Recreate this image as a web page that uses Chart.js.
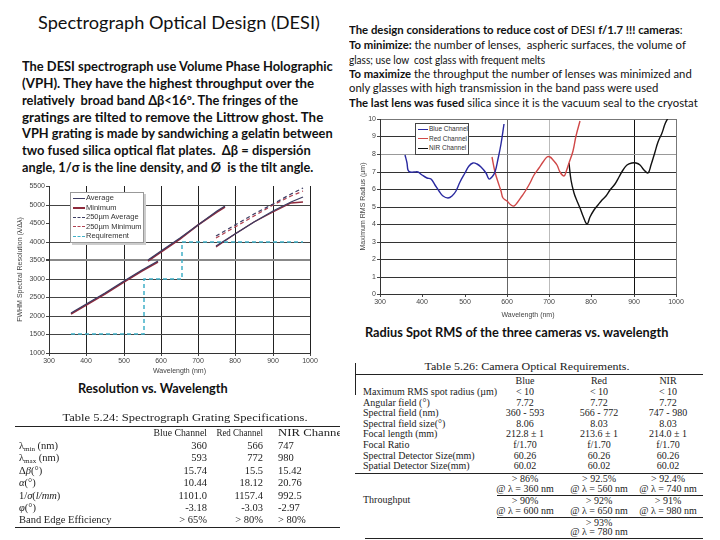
<!DOCTYPE html>
<html>
<head>
<meta charset="utf-8">
<title>Spectrograph Optical Design (DESI)</title>
<script src="https://cdn.jsdelivr.net/npm/chart.js@4.4.1/dist/chart.umd.min.js"></script>
<style>
  html, body { margin: 0; padding: 0; background: #fff; }
  #slide { position: relative; width: 720px; height: 540px; overflow: hidden; font-family: Lato, 'Liberation Sans', sans-serif; color: #111; }
  .abs { position: absolute; white-space: nowrap; }
  .line { position: absolute; white-space: nowrap; transform-origin: left center; }
  .par-l { font-size: 12.5px; font-weight: 700; }
  .par-r { font-size: 10.5px; }
  .cap { font-size: 12.5px; font-weight: 700; }
  .tab { font-family: 'Liberation Serif', serif; font-size: 10px; color: #222; line-height: 12px; }
  .tab-l { font-size: 10.5px; }
  .tab sub { font-size: 7px; vertical-align: -2px; line-height: 0; }
  .rule { position: absolute; height: 0; border-top: 1px solid #222; }
  .box { position: absolute; background: #fff; font-family: 'Liberation Sans', sans-serif; font-size: 7px; color: #333; overflow: hidden; z-index: 5; }
  .box div { height: 9.6px; line-height: 9.6px; white-space: nowrap; }
  .box span { display: inline-block; width: 12px; vertical-align: middle; margin: 0 1px 0 2px; }
  .chart { position: absolute; }
</style>
</head>
<body>
<div id="slide">

  <div class="line" data-w="282" style="left:38px; top:12px; font-size:17px;">Spectrograph Optical Design (DESI)</div>

  <div class="line par-l" data-w="311" style="left:22px; top:59px;">The DESI spectrograph use Volume Phase Holographic</div>
  <div class="line par-l" data-w="292" style="left:22px; top:76px;">(VPH). They have the highest throughput over the</div>
  <div class="line par-l" data-w="276" style="left:22px; top:93px;">relatively&nbsp; broad band Δβ&lt;16º. The fringes of the</div>
  <div class="line par-l" data-w="301" style="left:22px; top:110px;">gratings are tilted to remove the Littrow ghost. The</div>
  <div class="line par-l" data-w="311" style="left:22px; top:126px;">VPH grating is made by sandwiching a gelatin between</div>
  <div class="line par-l" data-w="289" style="left:22px; top:143px;">two fused silica optical flat plates.&nbsp; Δβ = dispersión</div>
  <div class="line par-l" data-w="291" style="left:22px; top:160px;">angle, 1/σ is the line density, and Ø&nbsp; is the tilt angle.</div>

  <div class="line par-r" data-w="334" style="left:349px; top:24px;"><b>The design considerations to reduce cost of</b> DESI <b>f/1.7 !!! cameras</b>:</div>
  <div class="line par-r" data-w="337" style="left:349px; top:39px;"><b>To minimize:</b> the number of lenses,&nbsp; aspheric surfaces, the volume of</div>
  <div class="line par-r" data-w="196" style="left:349px; top:54px;">glass; use low&nbsp; cost glass with frequent melts</div>
  <div class="line par-r" data-w="343" style="left:349px; top:68px;"><b>To maximize</b> the throughput the number of lenses was minimized and</div>
  <div class="line par-r" data-w="309" style="left:349px; top:82px;">only glasses with high transmission in the band pass were used</div>
  <div class="line par-r" data-w="349" style="left:349px; top:97px;"><b>The last lens was fused</b> silica since it is the vacuum seal to the cryostat</div>

  <div class="chart" style="left:0; top:180px; width:320px; height:196px;"><canvas id="chart-res"></canvas></div>
  <div class="chart" style="left:355px; top:110px; width:335px; height:210px;"><canvas id="chart-rms"></canvas></div>

  <div class="box" style="left:70px; top:192px; width:72px; height:49px; border:1px solid #999; box-shadow:2px 2px 0 #ccc; font-size:7.5px;">
    <div><span style="border-top:1.5px solid #3d3d63"></span>Average</div>
    <div><span style="border-top:2px solid #8e2a3c"></span>Minimum</div>
    <div><span style="border-top:1.5px dashed #3d3d63"></span>250µm Average</div>
    <div><span style="border-top:1.5px dashed #b04050"></span>250µm Minimum</div>
    <div><span style="border-top:1.5px dashed #40b0c8"></span>Requirement</div>
  </div>

  <div class="box" style="left:415px; top:123px; width:52px; height:30px; border:1px solid #444; font-size:6.5px;">
    <div><span style="border-top:1.5px solid #2a2aa0; width:10px"></span>Blue Channel</div>
    <div><span style="border-top:1.5px solid #d04848; width:10px"></span>Red Channel</div>
    <div><span style="border-top:1.5px solid #111; width:10px"></span>NIR Channel</div>
  </div>

  <div class="line cap" data-w="150" style="left:78px; top:381px;">Resolution vs. Wavelength</div>
  <div class="line cap" data-w="303" style="left:365px; top:325px;">Radius Spot RMS of the three cameras vs. wavelength</div>

  <div id="tablas"></div>
</div>

<script>
// ── RESOLUTION vs WAVELENGTH (left chart) ──────
// wavelengths (nm) of the points
const RES_WL_BLUE = [360, 450, 500, 550, 593];
const RES_WL_RED  = [566, 600, 650, 700, 750, 772];
const RES_WL_NIR  = [748, 800, 850, 900, 950, 980];

const RES_AVG_BLUE = [2070, 2620, 2930, 3230, 3480];
const RES_MIN_BLUE = [2050, 2600, 2905, 3205, 3455];
const RES_AVG_RED  = [3510, 3750, 4105, 4460, 4815, 4970];
const RES_MIN_RED  = [3490, 3730, 4085, 4440, 4790, 4945];
const RES_AVG_NIR  = [3870, 4220, 4540, 4820, 5080, 5210];
const RES_MIN_NIR  = [3850, 4200, 4520, 4800, 5030, 5080];
const RES_AVG250_NIR = [4140, 4440, 4750, 5020, 5280, 5440];
const RES_MIN250_NIR = [4100, 4400, 4700, 4980, 5220, 5370];

const REQ_WL  = [360, 556, 556, 656, 656, 980];
const REQ_VAL = [1500, 1500, 3000, 3000, 4000, 4000];

// ── RMS SPOT RADIUS (right chart) ──────────────
const RMS_WL_BLUE = [360, 363, 367, 372, 380, 390, 400, 410, 420, 430, 440, 450, 460, 470, 480, 490, 500, 510, 520, 530, 540, 550, 558, 565, 572, 580, 587, 593];
const RMS_BLUE    = [7.96, 7.5, 7.1, 6.97, 6.95, 6.98, 6.8, 6.65, 6.55, 6.25, 5.9, 5.6, 5.5, 5.6, 5.9, 6.4, 6.9, 7.3, 7.48, 7.45, 7.25, 6.9, 6.6, 6.7, 7.0, 7.7, 8.6, 9.7];

const RMS_WL_RED = [566, 572, 578, 585, 592, 600, 610, 618, 625, 635, 645, 655, 665, 675, 685, 695, 702, 710, 718, 726, 734, 740, 748, 756, 764, 772];
const RMS_RED    = [7.85, 7.0, 6.4, 5.9, 5.5, 5.3, 5.1, 5.02, 5.2, 5.6, 5.95, 6.35, 6.8, 7.2, 7.55, 7.8, 7.82, 7.65, 7.35, 7.0, 6.75, 7.0, 7.5, 8.2, 9.0, 9.9];

const RMS_WL_NIR = [746, 752, 758, 765, 772, 780, 789, 797, 805, 815, 825, 835, 845, 855, 865, 875, 885, 895, 905, 915, 925, 934, 942, 950, 958, 966, 974, 980];
const RMS_NIR    = [7.5, 6.5, 5.75, 5.3, 4.9, 4.45, 4.0, 4.4, 4.8, 5.1, 5.35, 5.6, 5.95, 6.3, 6.7, 7.1, 7.35, 7.5, 7.48, 7.35, 7.1, 6.92, 7.4, 8.1, 8.7, 9.2, 9.7, 10.05];

// axis ranges
const WL_MIN = 300, WL_MAX = 1000, WL_STEP = 100;
const RES_MIN = 1000, RES_MAX = 5500, RES_STEP = 500;
const RMS_MIN = 0, RMS_MAX = 10, RMS_STEP = 1;

// ── TABLES ─────────────────────────────────────
const GRATING_HEAD = ['Blue Channel', 'Red Channel', 'NIR Channel'];
const GRATING_ROWS = [
  ['λ<sub>min</sub> (nm)', '360', '566', '747'],
  ['λ<sub>max</sub> (nm)', '593', '772', '980'],
  ['Δ<i>β</i>(°)', '15.74', '15.5', '15.42'],
  ['<i>α</i>(°)', '10.44', '18.12', '20.76'],
  ['1/<i>σ</i>(<i>l/mm</i>)', '1101.0', '1157.4', '992.5'],
  ['<i>φ</i>(°)', '-3.18', '-3.03', '-2.97'],
  ['Band Edge Efficiency', '&gt; 65%', '&gt; 80%', '&gt; 80%']
];

const CAMERA_HEAD = ['Blue', 'Red', 'NIR'];
const CAMERA_ROWS = [
  ['Maximum RMS spot radius (µm)', '&lt; 10', '&lt; 10', '&lt; 10'],
  ['Angular field (°)', '7.72', '7.72', '7.72'],
  ['Spectral field (nm)', '360 - 593', '566 - 772', '747 - 980'],
  ['Spectral field size(°)', '8.06', '8.03', '8.03'],
  ['Focal length (mm)', '212.8 ± 1', '213.6 ± 1', '214.0 ± 1'],
  ['Focal Ratio', 'f/1.70', 'f/1.70', 'f/1.70'],
  ['Spectral Detector Size(mm)', '60.26', '60.26', '60.26'],
  ['Spatial Detector Size(mm)', '60.02', '60.02', '60.02']
];
const THROUGHPUT = [
  ['&gt; 86%', '&gt; 92.5%', '&gt; 92.4%'],
  ['@ λ = 360 nm', '@ λ = 560 nm', '@ λ = 740 nm'],
  ['&gt; 90%', '&gt; 92%', '&gt; 91%'],
  ['@ λ = 600 nm', '@ λ = 650 nm', '@ λ = 980 nm'],
  ['', '&gt; 93%', ''],
  ['', '@ λ = 780 nm', '']
];

// ── HELPERS ────────────────────────────────────
const cont = document.getElementById('tablas');

// texto de tabla; y = centro de línea, align l/r/c, w = ancho final opcional
function txt(x, y, html, align, extra, w) {
  const el = document.createElement('div');
  el.className = 'abs tab' + (extra ? ' ' + extra : '');
  el.innerHTML = html;
  el.style.top = (y - 6) + 'px';
  el.style.left = x + 'px';
  cont.appendChild(el);
  const k = w ? w / el.scrollWidth : 1;
  const shift = align === 'r' ? -100 : (align === 'c' ? -50 : 0);
  el.style.transformOrigin = 'left center';
  el.style.transform = `scaleX(${k}) translateX(${shift}%)`;
}

function regla(x1, x2, y) {
  const el = document.createElement('div');
  el.className = 'rule';
  el.style.left = x1 + 'px';
  el.style.width = (x2 - x1) + 'px';
  el.style.top = y + 'px';
  cont.appendChild(el);
}

// Table 5.24 (left, cropped at x=340)
const clipL = document.createElement('div');
clipL.style.cssText = 'position:absolute;left:0;top:0;width:340px;height:540px;overflow:hidden;';
document.getElementById('slide').appendChild(clipL);
txt(185, 418, 'Table 5.24: Spectrograph Grating Specifications.', 'c', 'tab-l', 245);
regla(15, 340, 426);
txt(207, 433, GRATING_HEAD[0], 'r', 'tab-l', 53);
txt(263, 433, GRATING_HEAD[1], 'r', 'tab-l', 47);
txt(278, 433, GRATING_HEAD[2], 'l', 'tab-l', 68);
GRATING_ROWS.forEach((r, i) => {
  const y = 446 + i * 12.4;
  txt(19, y, r[0], 'l', 'tab-l');
  txt(207, y, r[1], 'r', 'tab-l');
  txt(263, y, r[2], 'r', 'tab-l');
  txt(278, y, r[3], 'l', 'tab-l');
});
regla(15, 340, 527);
// la tabla izquierda va recortada
while (cont.firstChild) clipL.appendChild(cont.firstChild);

// Table 5.26 (right)
const COL_C = [525, 599, 668];
txt(527, 367, 'Table 5.26: Camera Optical Requirements.', 'c', null, 205);
regla(355, 703, 374);
CAMERA_HEAD.forEach((h, j) => txt(COL_C[j], 381, h, 'c'));
CAMERA_ROWS.forEach((r, i) => {
  const y = 392 + i * 10.6;
  txt(363, y, r[0], 'l');
  r.slice(1).forEach((v, j) => txt(COL_C[j], y, v, 'c'));
});
regla(355, 703, 473);
txt(363, 500, 'Throughput', 'l');
const TP_Y = [479, 489, 501, 511, 523, 532];
THROUGHPUT.forEach((r, i) => r.forEach((v, j) => { if (v) txt(COL_C[j], TP_Y[i], v, 'c'); }));
regla(497, 703, 495);
regla(497, 703, 517);
regla(365, 703, 538);
const marco = document.createElement('div');
marco.style.cssText = 'position:absolute;left:355px;top:363px;width:0;height:32px;border-left:1px solid #222;';
cont.appendChild(marco);

// estirar las líneas de texto al ancho medido en la imagen
document.querySelectorAll('.line[data-w]').forEach(el => {
  const w = +el.dataset.w;
  el.style.transform = `scaleX(${w / el.scrollWidth})`;
});

// ── CHARTS ─────────────────────────────────────
function pts(xs, ys) { return xs.map((x, i) => ({ x, y: ys[i] })); }

function serie(xs, ys, color, width, dash, tension) {
  return {
    data: pts(xs, ys),
    borderColor: color,
    borderWidth: width,
    borderDash: dash || [],
    pointRadius: 0,
    fill: false,
    tension: tension || 0
  };
}

const FONT = { family: "'Liberation Sans', Arial, sans-serif", size: 7 };

function eje(min, max, step, titulo, gridColor, gridWidth, size, dim) {
  return {
    type: 'linear',
    min, max,
    alignToPixels: true,
    ticks: { stepSize: step, font: FONT, color: '#444', padding: 1, callback: v => String(v) },
    grid: { color: gridColor, lineWidth: gridWidth, tickLength: 3, tickColor: '#444' },
    border: { color: '#333', width: 1 },
    title: { display: true, text: titulo, font: FONT, color: '#444', padding: { top: 1, bottom: 1 } },
    afterFit: s => { s[dim] = size; }
  };
}

const baseOpts = {
  responsive: true,
  maintainAspectRatio: false,
  animation: false,
  plugins: { legend: { display: false }, tooltip: { enabled: false } }
};

// Gráfico izquierdo — resolución
new Chart(document.getElementById('chart-res'), {
  type: 'line',
  data: {
    datasets: [
      serie(REQ_WL, REQ_VAL, '#40b0c8', 1.5, [4, 3]),
      serie(RES_WL_NIR, RES_AVG250_NIR, '#3d3d63', 1.3, [4, 3]),
      serie(RES_WL_NIR, RES_MIN250_NIR, '#b04050', 1.3, [4, 3]),
      serie(RES_WL_BLUE, RES_AVG_BLUE, '#3d3d63', 1.3),
      serie(RES_WL_RED, RES_AVG_RED, '#3d3d63', 1.3),
      serie(RES_WL_NIR, RES_AVG_NIR, '#3d3d63', 1.3),
      serie(RES_WL_BLUE, RES_MIN_BLUE, '#8e2a3c', 1.6),
      serie(RES_WL_RED, RES_MIN_RED, '#8e2a3c', 1.6),
      serie(RES_WL_NIR, RES_MIN_NIR, '#8e2a3c', 1.3)
    ]
  },
  options: {
    ...baseOpts,
    layout: { padding: { left: 15, top: 6, right: 10, bottom: 0 } },
    scales: {
      x: eje(WL_MIN, WL_MAX, WL_STEP, 'Wavelength (nm)', '#222', 1, 23, 'height'),
      y: eje(RES_MIN, RES_MAX, RES_STEP, 'FWHM Spectral Resolution (λ/Δλ)',
        c => (c.tick.value === 4500 || c.tick.value === 5500) ? 'rgba(0,0,0,0)' : (c.tick.value === 3500 ? '#888' : '#444'),
        c => c.tick.value === 3500 ? 2 : 1, 34, 'width')
    }
  }
});

// Gráfico derecho — radio RMS
const RMS_VGRID = { 600: '#666', 700: '#bbb', 900: '#111', 1000: '#777' };

new Chart(document.getElementById('chart-rms'), {
  type: 'line',
  data: {
    datasets: [
      serie(RMS_WL_BLUE, RMS_BLUE, '#2a2aa0', 1.4, null, 0.4),
      serie(RMS_WL_RED, RMS_RED, '#d04848', 1.4, null, 0.4),
      serie(RMS_WL_NIR, RMS_NIR, '#111', 1.4, null, 0.4)
    ]
  },
  options: {
    ...baseOpts,
    layout: { padding: { left: 3, top: 9, right: 14, bottom: 0 } },
    scales: {
      x: eje(WL_MIN, WL_MAX, WL_STEP, 'Wavelength (nm)',
        c => RMS_VGRID[c.tick.value] || 'rgba(0,0,0,0)', 1, 26, 'height'),
      y: eje(RMS_MIN, RMS_MAX, RMS_STEP, 'Maximum RMS Radius (µm)',
        c => c.tick.value === 8 ? '#999' : (c.tick.value === 10 ? '#777' : '#333'), 1, 22, 'width')
    }
  }
});
</script>
</body>
</html>
